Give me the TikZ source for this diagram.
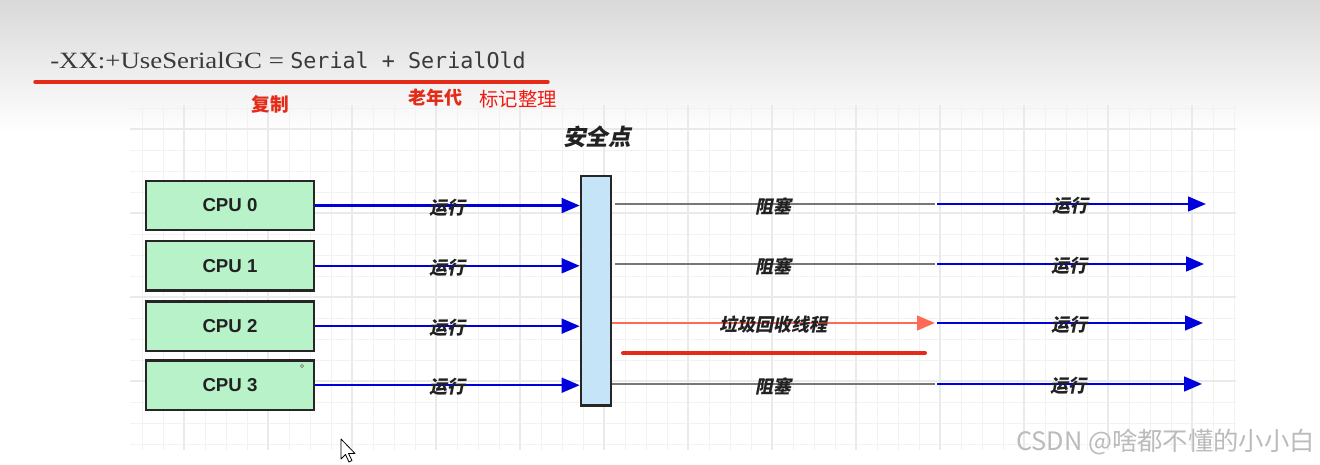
\documentclass[tikz,border=0pt]{standalone}
\usepackage{fontspec}
\usepackage{graphicx}
\setmainfont{Liberation Sans}
\newfontfamily\serifA{Liberation Serif}
\newfontfamily\monoA{DejaVu Sans Mono}
\newfontfamily\cjk{Noto Sans CJK SC}
\newfontfamily\cjkbi{Noto Sans CJK SC}[FakeSlant=0.2]
\usetikzlibrary{arrows.meta}
\definecolor{runblue}{HTML}{0000DD}
\definecolor{blockgray}{HTML}{777777}
\definecolor{gcred}{HTML}{FF6A55}
\definecolor{markred}{HTML}{E52A17}
\definecolor{labelred}{HTML}{F01A10}
\definecolor{boxgreen}{HTML}{B8F2C8}
\definecolor{barblue}{HTML}{C6E4F8}
\definecolor{boxline}{HTML}{262626}
\definecolor{textdark}{HTML}{222222}
\definecolor{cmdgray}{HTML}{3A3A3A}
\definecolor{gridminor}{HTML}{F2F2F2}
\definecolor{gridmajor}{HTML}{EAEAEA}
\definecolor{wmgray}{HTML}{BBBBBB}
\begin{document}
\begin{tikzpicture}[x=0.75pt,y=-0.75pt,
  cpubox/.style={draw=boxline, line width=1.6pt, fill=boxgreen,
    minimum width=126pt, minimum height=37pt, inner sep=0pt,
    font=\bfseries\fontsize{14}{16}\selectfont, text=textdark},
  safebar/.style={draw=boxline, line width=1.6pt, fill=barblue,
    minimum width=22.5pt, minimum height=172pt, inner sep=0pt},
  lbl/.style={font=\cjkbi\bfseries\fontsize{13.5}{15}\selectfont, text=textdark, inner sep=1pt, yshift=-1.5pt},
  runarrow/.style={draw=runblue, line width=1.9pt, -{Triangle[length=13.5pt,width=11pt]}},
  blockline/.style={draw=blockgray, line width=1.7pt},
  gcarrow/.style={draw=gcred, line width=1.8pt, -{Triangle[length=13.5pt,width=11pt]}},
]
\useasboundingbox (0,0) rectangle (1320,464);
\fill[white] (0,0) rectangle (1320,464);
\shade[top color=black!15, bottom color=white] (0,0) rectangle (1320,132);
% grid
\foreach \k in {-38,...,14} {
  \draw[gridminor, line width=0.75pt] ({940+21*\k},105) -- ({940+21*\k},450);
}
\foreach \k in {-5,...,11} {
  \draw[gridminor, line width=0.75pt] (130,{213+21*\k}) -- (1236,{213+21*\k});
}
\foreach \k in {-9,...,3} {
  \draw[gridmajor, line width=0.8pt] ({940+84*\k},105) -- ({940+84*\k},450);
}
\foreach \k in {-1,...,2} {
  \draw[gridmajor, line width=0.8pt] (130,{213+84*\k}) -- (1236,{213+84*\k});
}

% header
\node[anchor=base west, inner sep=0pt, text=cmdgray] (cmd) at (50,68)
  {\scalebox{1.15}[1]{\serifA\fontsize{17.5}{20}\selectfont -XX:+UseSerialGC =}};
\node[anchor=base west, inner sep=0pt, text=cmdgray] (mono) at (290,68)
  {\monoA\fontsize{16.3}{18}\selectfont Serial + SerialOld};
\coordinate (ul1) at (35,82);
\coordinate (ul2) at (548,82);
\draw[markred, line width=2.6pt, line cap=round] (ul1) -- (ul2);
\node[text=markred, font=\cjk\bfseries\fontsize{14}{16}\selectfont] (copy) at (270,104) {复制};
\node[text=markred, font=\cjk\bfseries\fontsize{13.5}{16}\selectfont] (old) at (435,98) {老年代};
\node[text=labelred, font=\cjk\fontsize{14.5}{16}\selectfont] (mark) at (518,99) {标记整理};

% safe point
\node[font=\cjkbi\bfseries\fontsize{17}{19}\selectfont, text=textdark] (sptitle) at (597,137) {安全点};
\node[safebar] (bar) at (595.8,290.8) {};

% CPUs
\node[cpubox] (cpu0) at (230,205.5) {CPU 0};
\node[cpubox] (cpu1) at (230,265.8) {CPU 1};
\node[cpubox] (cpu2) at (230,326.2) {CPU 2};
\node[cpubox] (cpu3) at (230,385.2) {CPU 3};
\draw[gray, line width=0.5pt] (302,366) circle (1.6);

% left arrows
\foreach \i in {0,...,3} {
  \draw[runarrow] (cpu\i.east) -- (cpu\i.east -| bar.west) node[lbl, midway] {运行};
}

% right side coordinates
\coordinate (m0) at (935,204);
\coordinate (m1) at (935,264);
\coordinate (m2) at (935,323);
\coordinate (m3) at (935,384);
\coordinate (e0) at (1206,204);
\coordinate (e1) at (1204,264);
\coordinate (e2) at (1203,323);
\coordinate (e3) at (1202,384);

\draw[blockline, shorten <=2.5pt] (m0 -| bar.east) -- (m0) node[lbl, midway] {阻塞};
\draw[blockline, shorten <=2.5pt] (m1 -| bar.east) -- (m1) node[lbl, midway] {阻塞};
\draw[gcarrow] (m2 -| bar.east) -- (m2) node[lbl, midway] {垃圾回收线程};
\draw[blockline] (m3 -| bar.east) -- (m3) node[lbl, midway] {阻塞};

\coordinate (r1) at (623,353);
\coordinate (r2) at (925,353);
\draw[markred, line width=3pt, line cap=round] (r1) -- (r2);

\foreach \i in {0,...,3} {
  \draw[runarrow, shorten <=1.5pt] (m\i) -- (e\i) node[lbl, midway] {运行};
}

% watermark
\node[anchor=east, text=wmgray, font=\cjk\fontsize{19}{21}\selectfont, inner sep=0pt] (wm) at (1315,442) {CSDN @啥都不懂的小小白};

% mouse cursor
\draw[black, line width=0.6pt, fill=white, line join=round]
  (341,439) -- (341,459) -- (345.5,454.5) -- (349,462) -- (352,460.5) -- (348.5,453.5) -- (355,453.5) -- cycle;
\end{tikzpicture}
\end{document}
